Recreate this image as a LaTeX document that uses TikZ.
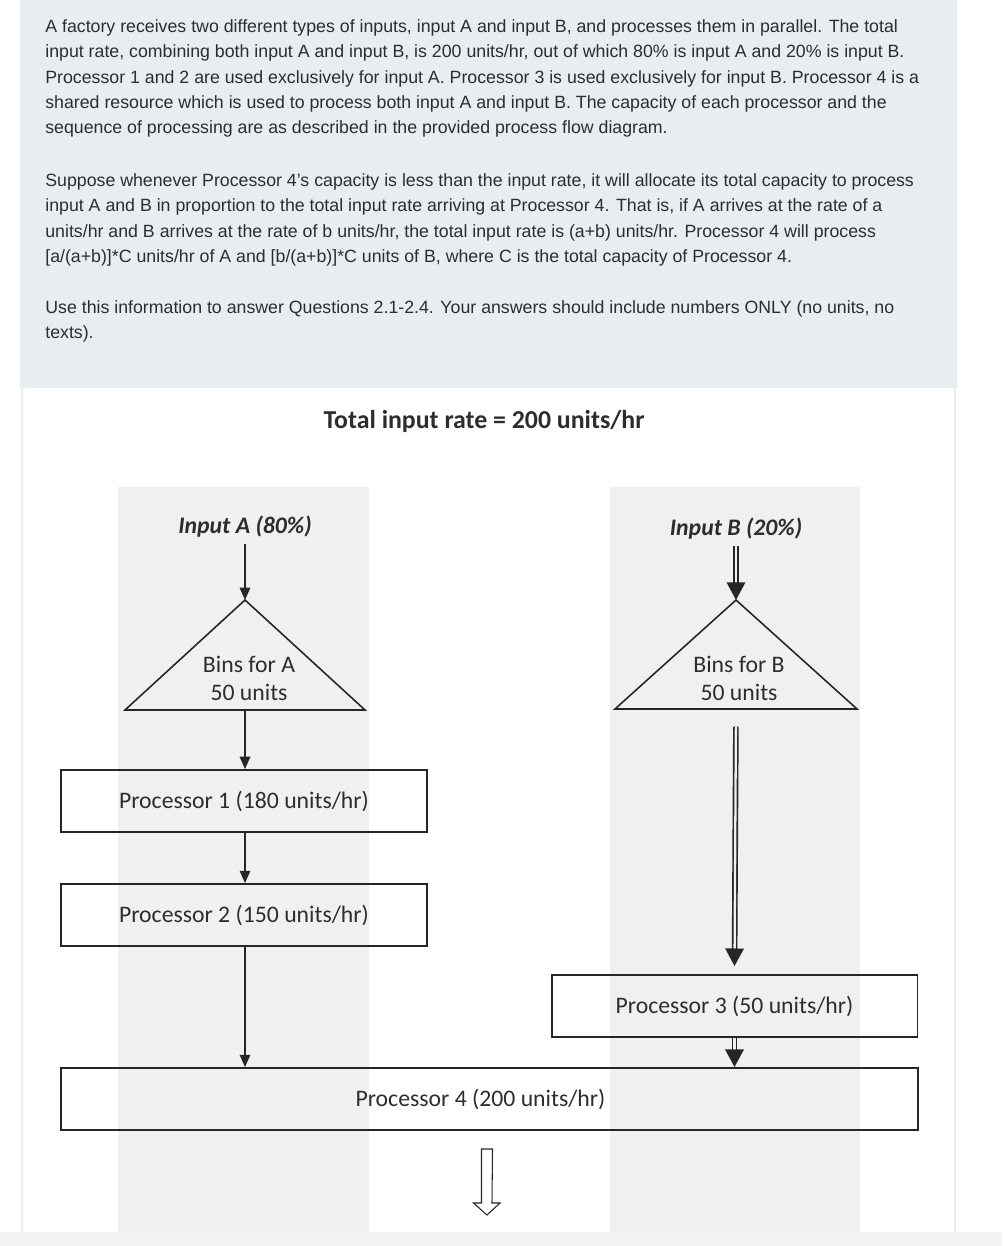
\documentclass[tikz,border=0pt]{standalone}
\usepackage{fontspec}
\usetikzlibrary{arrows.meta,positioning}

\newfontfamily\qfont{Liberation Sans}
\newfontfamily\flowfont{Carlito}

\definecolor{panelblue}{RGB}{231,237,241}
\definecolor{colgray}{RGB}{240,240,240}
\definecolor{stripgray}{RGB}{243,243,243}
\definecolor{ink}{RGB}{45,45,45}
\definecolor{lineink}{RGB}{38,38,38}

\begin{document}
\begin{tikzpicture}[x=0.02cm, y=-0.02cm, >={Triangle[length=7pt,width=6pt]},
    proc/.style={draw=lineink, line width=1.1pt, minimum width=7.32cm, minimum height=1.24cm, inner sep=0pt},
    flow/.style={text=ink, font=\flowfont\fontsize{13.5}{16.4}\selectfont},
    para/.style={anchor=north west, inner sep=0pt, align=left, text=ink, font=\qfont\fontsize{10.1}{14.46}\selectfont},
    arr/.style={->, draw=lineink, line width=0.85pt},
    dblarr/.style={-{Triangle[length=10pt,width=10.5pt]}, draw=lineink, line width=0.95pt, double=colgray, double distance=1.3pt}]

    \useasboundingbox (0,0) rectangle (1002,1246);

    \def\xA{245} % eixo da coluna A
    \def\xB{736} % eixo da coluna B

    % 1. Fundo (painel do enunciado, colunas cinzentas)
    \fill[white] (0,0) rectangle (1002,1246);
    \fill[panelblue] (20,0) rectangle (957,388);
    \draw[panelblue, line width=1.6pt] (22,388) -- (22,1232) (955,388) -- (955,1232);
    \fill[colgray] (118,487) rectangle (369,1232); % coluna A
    \fill[colgray] (610,487) rectangle (860,1232); % coluna B
    \fill[stripgray] (0,1232) rectangle (1002,1246);

    % 2. Enunciado
    \node[para] (par1) at (45,19) {A factory receives two different types of inputs, input A and input B, and processes them in parallel. The total\\
        input rate, combining both input A and input B, is 200 units/hr, out of which 80\% is input A and 20\% is input B.\\
        Processor 1 and 2 are used exclusively for input A. Processor 3 is used exclusively for input B. Processor 4 is a\\
        shared resource which is used to process both input A and input B. The capacity of each processor and the\\
        sequence of processing are as described in the provided process flow diagram.};
    \node[para] (par2) at (45,173) {Suppose whenever Processor 4’s capacity is less than the input rate, it will allocate its total capacity to process\\
        input A and B in proportion to the total input rate arriving at Processor 4. That is, if A arrives at the rate of a\\
        units/hr and B arrives at the rate of b units/hr, the total input rate is (a+b) units/hr. Processor 4 will process\\
        {[}a/(a+b)]*C units/hr of A and [b/(a+b)]*C units of B, where C is the total capacity of Processor 4.};
    \node[para] (par3) at (45,300) {Use this information to answer Questions 2.1-2.4. Your answers should include numbers ONLY (no units, no\\
        texts).};

    % 3. Diagrama de fluxo
    \node[flow, font=\flowfont\bfseries\fontsize{14.7}{17}\selectfont] (title) at (484,421) {Total input rate = 200 units/hr};

    \node[flow, font=\flowfont\bfseries\itshape\fontsize{13.5}{16}\selectfont] (inA) at (\xA,527) {Input A (80\%)};
    \node[flow, font=\flowfont\bfseries\itshape\fontsize{13.5}{16}\selectfont] (inB) at (\xB,529) {Input B (20\%)};

    % bins (triangulos)
    \coordinate (binsA top) at (\xA,600);
    \coordinate (binsA bot) at (\xA,710);
    \draw[lineink, line width=0.9pt, line join=miter] (binsA top) -- (125,710) -- (365,710) -- cycle;
    \node[flow, align=center] (binsA) at (249,678.5) {Bins for A\\50 units};

    \coordinate (binsB top) at (\xB,600);
    \coordinate (binsB bot) at (\xB,709);
    \draw[lineink, line width=0.9pt, line join=miter] (binsB top) -- (615,709) -- (857,709) -- cycle;
    \node[flow, align=center] (binsB) at (739,678.5) {Bins for B\\50 units};

    % processadores
    \node[proc, flow] (p1) at (244,801) {Processor 1 (180 units/hr)};
    \node[proc, flow] (p2) at (244,915) {Processor 2 (150 units/hr)};
    \node[proc, flow] (p3) at (734.5,1006) {Processor 3 (50 units/hr)};
    \node[proc, flow, minimum width=17.14cm] (p4) at (489.5,1099) {\hspace*{-0.36cm}Processor 4 (200 units/hr)};

    % 4. Setas
    \draw[arr] (inA) -- (binsA top);
    \draw[arr] (binsA bot) -- (p1.north -| binsA bot);
    \draw[arr] (p1.south -| binsA bot) -- (p2.north -| binsA bot);
    \draw[arr] (p2.south -| binsA bot) -- (p4.north -| binsA bot);

    \draw[dblarr] (inB) -- (binsB top);
    \draw[dblarr, shorten <=10pt] (binsB bot) -- ([yshift=0.16cm]p3.north);
    \draw[dblarr] (p3.south) -- (p4.north -| p3.south);

    % saida (seta vazada)
    \coordinate (out) at (487,1149);
    \draw[lineink, line width=0.6pt, line join=miter]
        (out) ++(-5.5,0) -- ++(0,54) -- ++(-8,0) -- (487,1215) -- (500,1203) -- ++(-8,0) -- (492.5,1149) -- cycle;

\end{tikzpicture}
\end{document}
